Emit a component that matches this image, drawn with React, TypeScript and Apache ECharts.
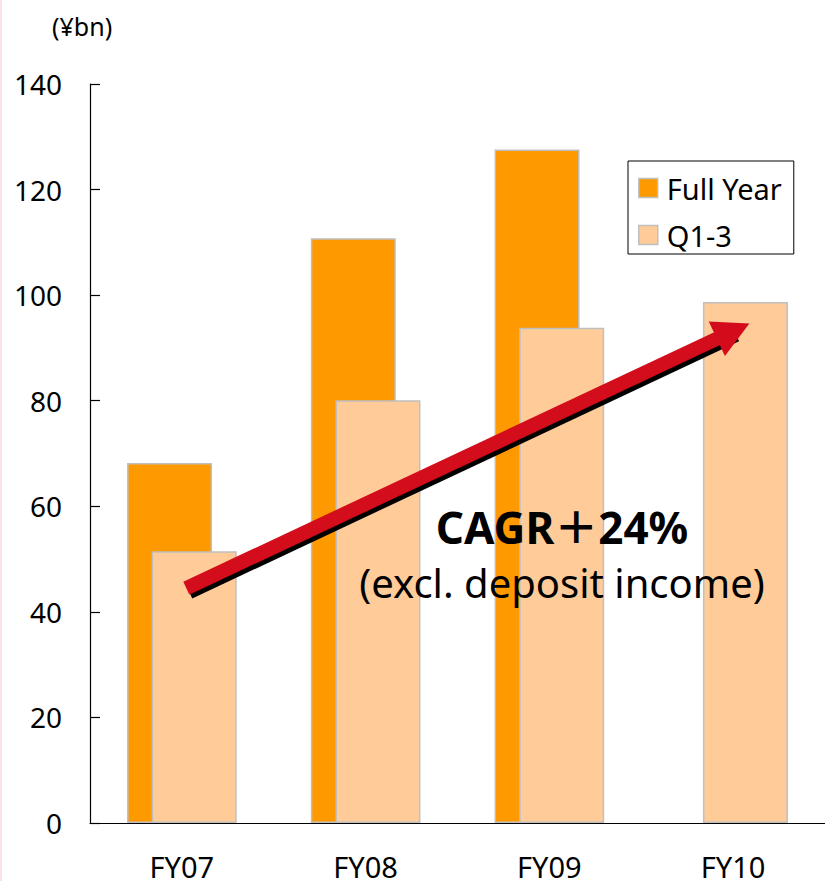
import React, { useEffect, useRef } from "react";
import * as echarts from "echarts";

const categories = ["FY07", "FY08", "FY09", "FY10"];
const fullYear: (number | string)[] = [68.2, 110.8, 127.6, "-"];
const q13: number[] = [51.5, 80.1, 93.8, 98.7];
const yTicks = { min: 0, max: 140, interval: 20 };
const unitLabel = "(¥bn)";
const cagrTitle = "CAGR＋24%";
const cagrNote = "(excl. deposit income)";
// arrow endpoints in data space: [category position (index), value]
const arrowFrom: [number, number] = [0.024, 44.5];
const arrowTo: [number, number] = [3.0, 93.2];

const FONT = '"Noto Sans", "Noto Sans CJK JP", sans-serif';

export default function App() {
  const ref = useRef<HTMLDivElement>(null);
  useEffect(() => {
    if (!ref.current) return;
    const chart = echarts.init(ref.current, undefined, { renderer: "svg" });
    chart.setOption({
      animation: false,
      backgroundColor: "#ffffff",
      textStyle: { fontFamily: FONT, color: "#000" },
      grid: { left: 90, top: 84, width: 744, bottom: 58, containLabel: false },
      legend: {
        orient: "vertical",
        left: 628,
        top: 161,
        padding: [12, 12, 4, 10],
        borderColor: "#000",
        borderWidth: 1,
        itemWidth: 19,
        itemHeight: 19,
        itemGap: 17,
        icon: "rect",
        textStyle: { fontFamily: FONT, fontSize: 29, color: "#000", lineHeight: 30, padding: [0, 0, 0, 4] },
        data: [
          { name: "Full Year", itemStyle: { borderColor: "#BFBFBF", borderWidth: 1.5 } },
          { name: "Q1-3", itemStyle: { borderColor: "#BFBFBF", borderWidth: 1.5 } },
        ],
      },
      xAxis: [
        {
          type: "category",
          data: categories,
          axisLine: { lineStyle: { color: "#000", width: 1.2 } },
          axisTick: { inside: true, length: 10, lineStyle: { color: "#000", width: 1.2 } },
          axisLabel: { fontFamily: FONT, fontSize: 29, color: "#000", margin: 29 },
        },
        { type: "value", min: -0.5, max: 3.5, show: false },
      ],
      yAxis: {
        type: "value",
        min: yTicks.min,
        max: yTicks.max,
        interval: yTicks.interval,
        splitLine: { show: false },
        axisLine: { show: true, onZero: false, lineStyle: { color: "#000", width: 1.2 } },
        axisTick: { show: true, inside: true, length: 10, lineStyle: { color: "#000", width: 1.2 } },
        axisLabel: { fontFamily: FONT, fontSize: 28, color: "#000", margin: 28 },
      },
      series: [
        {
          name: "Full Year",
          type: "bar",
          data: fullYear,
          barWidth: 85,
          barGap: "-71%",
          itemStyle: { color: "#FF9900", borderColor: "#BFBFBF", borderWidth: 1.5 },
        },
        {
          name: "Q1-3",
          type: "bar",
          data: q13,
          barWidth: 85,
          itemStyle: { color: "#FFCC99", borderColor: "#BFBFBF", borderWidth: 1.5 },
        },
        {
          name: "arrow",
          type: "line",
          xAxisIndex: 1,
          z: 10,
          data: [arrowFrom, arrowTo],
          showSymbol: false,
          silent: true,
          lineStyle: { width: 0, opacity: 0 },
          markLine: {
            silent: true,
            symbol: ["none", "triangle"],
            symbolSize: [38, 36],
            label: { show: false },
            lineStyle: {
              color: "#D40B1A",
              width: 14,
              type: "solid",
              opacity: 1,
              cap: "butt",
              shadowColor: "#000",
              shadowOffsetX: 3,
              shadowOffsetY: 4,
              shadowBlur: 0,
            },
            data: [[{ coord: arrowFrom }, { coord: arrowTo }]],
          },
        },
      ],
      graphic: [
        { type: "rect", left: 0, top: 0, z: 100, shape: { x: 0, y: 0, width: 2, height: 881 }, style: { fill: "#FBE1EA" } },
        {
          type: "text",
          x: 52,
          y: 26,
          z: 100,
          style: { text: unitLabel, fontFamily: FONT, fontSize: 25, fill: "#000", verticalAlign: "middle", align: "left" },
        },
        {
          type: "text",
          x: 562,
          y: 527,
          z: 100,
          style: { text: cagrTitle, fontFamily: FONT, fontSize: 44, lineHeight: 44, fontWeight: "bold", fill: "#000", verticalAlign: "middle", align: "center" },
        },
        {
          type: "text",
          x: 562,
          y: 582,
          z: 100,
          style: { text: cagrNote, fontFamily: FONT, fontSize: 40, lineHeight: 40, fill: "#000", verticalAlign: "middle", align: "center" },
        },
      ],
    });
    return () => chart.dispose();
  }, []);
  return (
    <div style={{ position: "absolute", left: 0, top: 0, width: 825, height: 881, overflow: "hidden" }}>
      <div ref={ref} style={{ width: 825, height: 881 }} />
    </div>
  );
}
